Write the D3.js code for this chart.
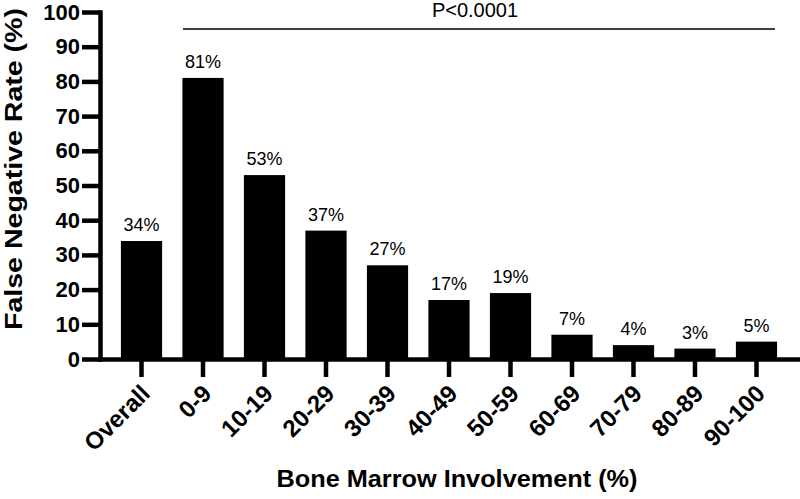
<!DOCTYPE html>
<html>
<head>
<meta charset="utf-8">
<script src="https://cdn.jsdelivr.net/npm/d3@7"></script>
<style>
  body { margin: 0; background: #fff; }
  svg { display: block; font-family: Arial, "Liberation Sans", Helvetica, sans-serif; }
</style>
</head>
<body>
<div id="container"></div>
<script>
// Chart data
const categories = ["Overall", "0-9", "10-19", "20-29", "30-39", "40-49", "50-59", "60-69", "70-79", "80-89", "90-100"];
const rates = [34, 81, 53, 37, 27, 17, 19, 7, 4, 3, 5];
const yTicks = [0, 10, 20, 30, 40, 50, 60, 70, 80, 90, 100];
const pValueText = "P<0.0001";

// Dimensions
const width = 800,
  height = 499;

const svg = d3.select("#container")
  .append("svg")
  .attr("width", width)
  .attr("height", height);

// Scales
const x = d3.scaleBand()
  .domain(categories)
  .range([100, 798])
  .paddingInner(0.33)
  .paddingOuter(0.34);

const y = d3.scaleLinear()
  .domain([0, 100])
  .range([359, 12]);

// Bars
svg.selectAll(".bar")
  .data(categories)
  .join("rect")
  .attr("class", "bar")
  .attr("x", d => x(d))
  .attr("width", x.bandwidth())
  .attr("y", (d, i) => y(rates[i]))
  .attr("height", (d, i) => y(0) - y(rates[i]))
  .attr("fill", "#000");

// Value labels above bars
svg.selectAll(".val")
  .data(categories)
  .join("text")
  .attr("class", "val")
  .attr("x", d => x(d) + x.bandwidth() / 2)
  .attr("y", (d, i) => y(rates[i]) - 10)
  .attr("text-anchor", "middle")
  .attr("font-size", 18)
  .text((d, i) => rates[i] + "%");

// Y axis
const yAxis = svg.append("g")
  .attr("transform", "translate(100,0)")
  .call(d3.axisLeft(y).tickValues(yTicks).tickSize(18).tickSizeOuter(0).tickPadding(2));

// X axis
const xAxis = svg.append("g")
  .attr("transform", `translate(0,${y(0)})`)
  .call(d3.axisBottom(x).tickSize(18).tickSizeOuter(0));

[yAxis, xAxis].forEach(g => {
  g.select(".domain").attr("stroke", "#000").attr("stroke-width", 4.5).attr("stroke-linecap", "square");
  g.selectAll(".tick line").attr("stroke", "#000").attr("stroke-width", 4.5);
});

yAxis.selectAll(".tick text")
  .attr("font-size", 22)
  .attr("font-weight", "bold")
  .attr("fill", "#000");

// rotated category labels
xAxis.selectAll(".tick text")
  .attr("font-size", 24)
  .attr("font-weight", "bold")
  .attr("fill", "#000")
  .attr("text-anchor", "end")
  .attr("x", 0)
  .attr("y", 0)
  .attr("dy", 0)
  .attr("transform", "translate(10,36) rotate(-45)");

// Axis titles
svg.append("text")
  .attr("transform", "translate(22,169) rotate(-90)")
  .attr("text-anchor", "middle")
  .attr("font-size", 23)
  .attr("font-weight", "bold")
  .attr("textLength", 322)
  .attr("lengthAdjust", "spacingAndGlyphs")
  .text("False Negative Rate (%)");

svg.append("text")
  .attr("x", 457)
  .attr("y", 487)
  .attr("text-anchor", "middle")
  .attr("font-size", 23)
  .attr("font-weight", "bold")
  .attr("textLength", 361)
  .attr("lengthAdjust", "spacingAndGlyphs")
  .text("Bone Marrow Involvement (%)");

// Significance bracket
svg.append("line")
  .attr("x1", 183)
  .attr("x2", 775)
  .attr("y1", 29)
  .attr("y2", 29)
  .attr("stroke", "#000")
  .attr("stroke-width", 1.6);

svg.append("text")
  .attr("x", 475)
  .attr("y", 17)
  .attr("text-anchor", "middle")
  .attr("font-size", 20)
  .text(pValueText);
</script>
</body>
</html>
